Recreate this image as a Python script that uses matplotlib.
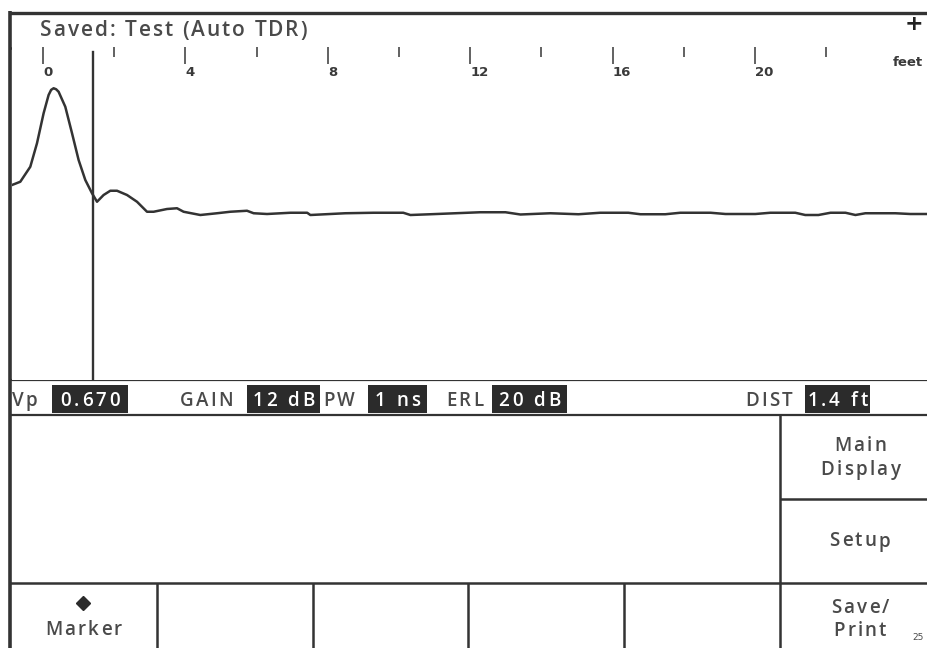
import matplotlib
matplotlib.use("Agg")
import matplotlib.pyplot as plt
from matplotlib.patches import Rectangle
from matplotlib.font_manager import FontProperties, findfont
from matplotlib.ft2font import FT2Font, LoadFlags

# TDR trace: distance (feet) and normalised reflection amplitude
trace_ft = [-0.871, -0.638, -0.357, -0.169, 0.017, 0.157, 0.228, 0.298, 0.368,
            0.438, 0.626, 0.815, 1.000, 1.188, 1.376, 1.517, 1.702, 1.890,
            2.079, 2.360, 2.640, 2.921, 3.107, 3.483, 3.764, 3.949, 4.419,
            4.888, 5.261, 5.730, 5.916, 6.292, 6.95, 7.42, 7.51, 8.07, 8.49,
            9.28, 10.12, 10.32, 10.88, 11.58, 12.28, 12.99, 13.41, 14.25,
            15.04, 15.65, 16.44, 16.78, 17.48, 17.90, 18.75, 19.17, 20.01,
            20.43, 21.13, 21.41, 21.78, 22.12, 22.54, 22.82, 23.10, 23.94,
            24.36, 24.83]
trace_amp = [0.224, 0.250, 0.370, 0.558, 0.798, 0.944, 0.985, 0.998, 0.990,
             0.970, 0.850, 0.638, 0.424, 0.264, 0.158, 0.090, 0.144, 0.178,
             0.178, 0.144, 0.090, 0.010, 0.010, 0.032, 0.038, 0.010, -0.016,
             -0.002, 0.010, 0.018, -0.002, -0.008, 0.002, 0.002, -0.016,
             -0.008, -0.002, 0.002, 0.002, -0.016, -0.010, -0.002, 0.006,
             0.006, -0.012, -0.002, -0.010, 0.002, 0.002, -0.010, -0.010,
             0.002, 0.002, -0.008, -0.008, 0.002, 0.002, -0.016, -0.016,
             0.002, 0.002, -0.016, -0.002, -0.002, -0.008, -0.008]

major_ticks = [0, 4, 8, 12, 16, 20]
minor_ticks = [2, 6, 10, 14, 18, 22]
dist_ft = 1.4

title = "Saved: Test (Auto TDR)"
status_labels = ["Vp", "GAIN", "PW", "ERL", "DIST"]
status_values = ["0.670", "12 dB", "1 ns", "20 dB", f"{dist_ft} ft"]
side_keys = [["Main", "Display"], ["Setup"], ["Save/", "Print"]]
bottom_keys = ["Marker", "", "", "", ""]

W, H = 927, 648
DPI = 100
INK = "#333333"
TXT = "#4a4a4a"

fig = plt.figure(figsize=(W / DPI, H / DPI), dpi=DPI)
fig.patch.set_facecolor("white")

# trace panel, in feet
ax = fig.add_axes([12 / W, (H - 380) / H, (W - 12) / W, 333 / H])
ax.plot(trace_ft, trace_amp, color=INK, lw=1.8, solid_joinstyle="round")
ax.axvline(dist_ft, ymin=0, ymax=0.985, color=INK, lw=1.7)
ax.set_xlim(-0.871, 24.83)
ax.set_ylim(-1.336, 1.328)
ax.xaxis.tick_top()
ax.set_xticks(major_ticks)
ax.set_xticks(minor_ticks, minor=True)
ax.set_xticklabels([str(t) for t in major_ticks])
ax.tick_params(axis="x", which="major", direction="in", length=12, width=1.3,
               color="#555555", pad=-23, labelsize=9.5, labelcolor="#3a3a3a")
ax.tick_params(axis="x", which="minor", direction="in", length=7, width=1.3,
               color="#555555")
for lbl in ax.get_xticklabels():
    lbl.set_ha("left")
    lbl.set_fontweight("bold")
ax.set_yticks([])
for s in ax.spines.values():
    s.set_visible(False)
ax.text(23.88, 1 - 16 / 333, "feet", transform=ax.get_xaxis_transform(),
        va="center", ha="left", fontsize=9.5, fontweight="bold",
        color="#3a3a3a")

# instrument frame in pixel coordinates
fr = fig.add_axes([0, 0, 1, 1], zorder=-1)
fr.set_xlim(0, W)
fr.set_ylim(H, 0)
fr.axis("off")


def hline(y, x0, x1, lw=1.6):
    fr.plot([x0, x1], [y, y], color=INK, lw=lw, solid_capstyle="butt")


def vline(x, y0, y1, lw=1.6):
    fr.plot([x, x], [y0, y1], color=INK, lw=lw, solid_capstyle="butt")


def spaced(x, y, s, size=13.5, track=2.2, ha="left", color=TXT,
           weight="semibold"):
    # the instrument font is letter-spaced, so lay glyphs out one by one
    prop = FontProperties(family="Open Sans", size=size, weight=weight)
    font = FT2Font(findfont(prop))
    font.set_size(size, 72)
    adv = [font.load_char(ord(c), flags=LoadFlags.NO_HINTING)
           .linearHoriAdvance / 65536 * DPI / 72 for c in s]
    total = sum(adv) + track * (len(s) - 1)
    cx = x - total / 2 if ha == "center" else x
    for c, a in zip(s, adv):
        if c != " ":
            fr.text(cx, y, c, fontproperties=prop, color=color,
                    va="baseline", ha="left")
        cx += a + track


vline(10.5, 11, H, lw=2.6)
hline(12.5, 10, W, lw=2.4)
hline(47.5, 10, W, lw=1.8)
hline(380, 10, W, lw=1.6)
hline(415, 10, W, lw=1.6)
hline(583, 10, W, lw=1.8)
vline(780, 415, H, lw=1.8)
hline(499, 780, W, lw=1.8)

spaced(40, 36.5, title, size=15, track=2.0)
fr.text(914, 24, "+", fontsize=16, color="#222222", va="center", ha="center",
        fontweight="bold")

# status bar
label_x = [12, 180, 323, 446, 745]
box_x = [(52, 128), (247, 320), (368, 427), (492, 567), (805, 870)]
for lab, val, lx, (b0, b1) in zip(status_labels, status_values, label_x, box_x):
    spaced(lx, 406, lab)
    fr.add_patch(Rectangle((b0, 385), b1 - b0, 28, color="#2b2b2b", lw=0))
    spaced((b0 + b1) / 2, 406, val, ha="center", color="white", track=3)

# soft keys down the right-hand side
side_baselines = [[451, 475], [546.5], [613, 636]]
for key, ys in zip(side_keys, side_baselines):
    for line, y in zip(key, ys):
        spaced(860, y, line, ha="center")
fr.text(912, 638, "25", fontsize=6.5, color=TXT, va="center", ha="left")

edges = [10, 157, 313, 468, 624, 780]
for x in edges[1:-1]:
    vline(x, 583, H, lw=1.8)
for key, x0, x1 in zip(bottom_keys, edges[:-1], edges[1:]):
    if key:
        cx = (x0 + x1) / 2
        fr.plot(cx, 603, marker="D", ms=7, color="#2b2b2b")
        spaced(cx, 635, key, ha="center")

fig.savefig("out.png", dpi=DPI)
